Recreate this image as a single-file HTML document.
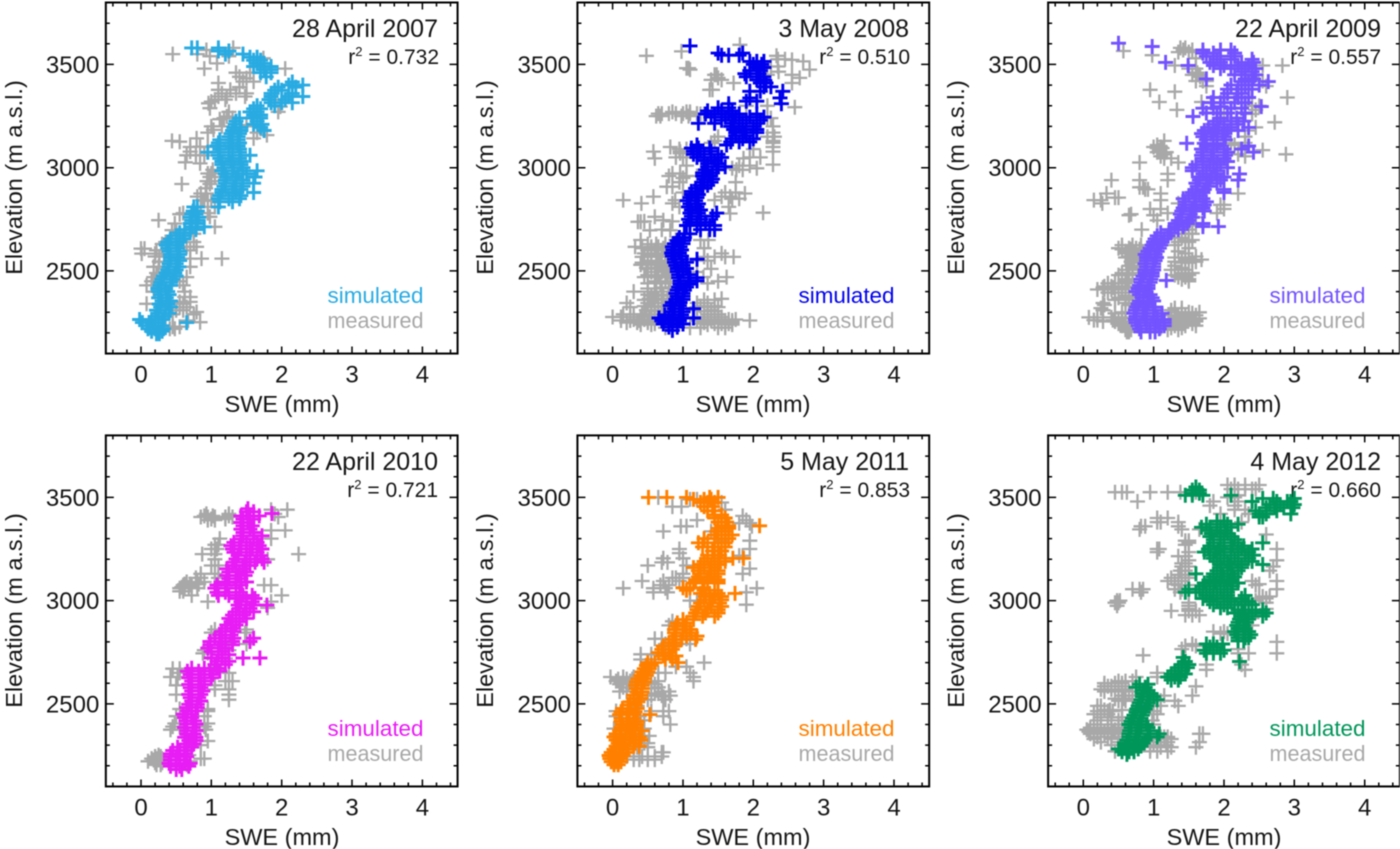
<!DOCTYPE html>
<html lang="en">
<head>
<meta charset="utf-8">
<title>Simulated and measured SWE by elevation</title>
<style>
html,body{margin:0;padding:0;background:#fff;}
svg{display:block;font-family:"Liberation Sans",sans-serif;fill:#151515;filter:blur(0.45px);}
.title{font-size:25px;text-anchor:end;}
.rsq{font-size:21px;text-anchor:end;}
.leg{font-size:22px;}
.axt{font-size:23.5px;text-anchor:middle;}
.sup{font-size:13px;}
</style>
</head>
<body>
<svg id="fig" xmlns="http://www.w3.org/2000/svg" width="1400" height="849" viewBox="0 0 1400 849">
<rect width="1400" height="849" fill="#fff"/>

<g id="panel-2007">
<text class="title" x="438" y="37">28 April 2007</text>
<text class="rsq" x="439" y="64">r<tspan class="sup" dy="-8">2</tspan><tspan dy="8"> = 0.732</tspan></text>
<text class="leg" x="327.5" y="303" textLength="96" lengthAdjust="spacingAndGlyphs" fill="#29abe2">simulated</text>
<text class="leg" x="327.5" y="328" textLength="96" lengthAdjust="spacingAndGlyphs" fill="#a8a8a8">measured</text>
<text class="axt" x="282" y="412">SWE (mm)</text>
<text class="axt" transform="translate(22,177.5) rotate(-90)">Elevation (m a.s.l.)</text>
</g>

<g id="panel-2008">
<text class="title" x="909" y="37">3 May 2008</text>
<text class="rsq" x="910" y="64">r<tspan class="sup" dy="-8">2</tspan><tspan dy="8"> = 0.510</tspan></text>
<text class="leg" x="798.5" y="303" textLength="96" lengthAdjust="spacingAndGlyphs" fill="#0000f0">simulated</text>
<text class="leg" x="798.5" y="328" textLength="96" lengthAdjust="spacingAndGlyphs" fill="#a8a8a8">measured</text>
<text class="axt" x="753" y="412">SWE (mm)</text>
<text class="axt" transform="translate(493,177.5) rotate(-90)">Elevation (m a.s.l.)</text>
</g>

<g id="panel-2009">
<text class="title" x="1381" y="37">22 April 2009</text>
<text class="rsq" x="1381" y="64">r<tspan class="sup" dy="-8">2</tspan><tspan dy="8"> = 0.557</tspan></text>
<text class="leg" x="1269.5" y="303" textLength="96" lengthAdjust="spacingAndGlyphs" fill="#7353ff">simulated</text>
<text class="leg" x="1269.5" y="328" textLength="96" lengthAdjust="spacingAndGlyphs" fill="#a8a8a8">measured</text>
<text class="axt" x="1224" y="412">SWE (mm)</text>
<text class="axt" transform="translate(964,177.5) rotate(-90)">Elevation (m a.s.l.)</text>
</g>

<g id="panel-2010">
<text class="title" x="438" y="470">22 April 2010</text>
<text class="rsq" x="438" y="497">r<tspan class="sup" dy="-8">2</tspan><tspan dy="8"> = 0.721</tspan></text>
<text class="leg" x="327.5" y="736" textLength="96" lengthAdjust="spacingAndGlyphs" fill="#e81cf5">simulated</text>
<text class="leg" x="327.5" y="761" textLength="96" lengthAdjust="spacingAndGlyphs" fill="#a8a8a8">measured</text>
<text class="axt" x="282" y="845">SWE (mm)</text>
<text class="axt" transform="translate(22,610.5) rotate(-90)">Elevation (m a.s.l.)</text>
</g>

<g id="panel-2011">
<text class="title" x="909" y="470">5 May 2011</text>
<text class="rsq" x="910" y="497">r<tspan class="sup" dy="-8">2</tspan><tspan dy="8"> = 0.853</tspan></text>
<text class="leg" x="798.5" y="736" textLength="96" lengthAdjust="spacingAndGlyphs" fill="#ff8000">simulated</text>
<text class="leg" x="798.5" y="761" textLength="96" lengthAdjust="spacingAndGlyphs" fill="#a8a8a8">measured</text>
<text class="axt" x="753" y="845">SWE (mm)</text>
<text class="axt" transform="translate(493,610.5) rotate(-90)">Elevation (m a.s.l.)</text>
</g>

<g id="panel-2012">
<text class="title" x="1381" y="470">4 May 2012</text>
<text class="rsq" x="1381" y="497">r<tspan class="sup" dy="-8">2</tspan><tspan dy="8"> = 0.660</tspan></text>
<text class="leg" x="1269.5" y="736" textLength="96" lengthAdjust="spacingAndGlyphs" fill="#00965a">simulated</text>
<text class="leg" x="1269.5" y="761" textLength="96" lengthAdjust="spacingAndGlyphs" fill="#a8a8a8">measured</text>
<text class="axt" x="1224" y="845">SWE (mm)</text>
<text class="axt" transform="translate(964,610.5) rotate(-90)">Elevation (m a.s.l.)</text>
</g>
</svg>

<script>
// Rows are [elevation, swe, swe, ...]: each SWE value at that elevation is one marker.
const xTickLabels = [0, 1, 2, 3, 4];
const yTickLabels = [2500, 3000, 3500];

const meas2007 = [[3550,.45,.8],[3570,.93],[3580,1.31],[3540,.98,1.25],[3505,1.08],[3480,.9,2.05],[3530,1.74],[3433,1.5],[3417,1.6,1.45],[3410,1.1],[3390,1.4],[3377,1.27,1.1],[3345,1.22,1.48,1.1],[3320,1],[3312,.96],[3296,1.98],[3288,.98],[3248,1.22],[3235,1.12],[3207,1.5],[3183,1.03],[3158,1.79],[3142,.79,1.6],[3130,.44],[3126,.55],[3102,.84],[3078,.7],[3026,.63],[3021,.84],[2990,1.02],[2972,1,.95],[2955,.98,1.05],[2935,.94,1],[2921,.58,.98],[2900,.92],[2875,.93,.85],[2860,.8],[2843,.88,.95],[2746,.25],[2730,.48],[2698,.44,.5],[2762,.98],[2714,1.05],[2775,.55],[2608,0,.05],[2584,.01,.2],[2570,.2,.26],[2545,.26,.33],[2617,.79,.65],[2560,.86,.7,1.15],[2630,.3],[2520,.25],[2490,.22],[2470,.65,.18],[2450,.55,.2],[2430,.08,.15,.6],[2400,.2],[2374,.7,.62],[2341,.08,.6],[2325,.55,.65],[2310,.5,.6],[2301,.79],[2260,.67],[2252,.84],[2220,.41,.48],[3460,1.35,1.55],[3440,1.4],[3360,1.15,1.35,1.5],[3330,1.05,1.2,1.9,2],[3270,1.25,1.95],[3240,1.3,1.18],[3200,1,1.15,1.6],[3170,.95,1.65],[3100,.7,.95],[3060,.65,.78,.9],[2840,.9,1],[2810,.85,1.05],[2780,.6,.95],[2680,.5,.75],[2640,.35,.75],[2600,.22,.3,.7],[2520,.18,.7],[2490,.3],[2450,.15,.22],[2400,.18,.25,.62],[2350,.55,.7],[2290,.45,.75],[2230,.35,.45,.55]];
const sim2007 = [[2196,.22,.26],[2208,.15,.25,.3],[2220,.1,.2,.32],[2235,.08,.18,.3],[2250,.02,.12,.25,.65],[2265,-.02,.15,.3],[2280,.2,.33],[2295,.25,.4],[2310,.22,.35],[2325,.28,.42],[2340,.26,.38],[2355,.3,.42],[2370,.25,.36],[2385,.28,.4],[2400,.25,.38],[2415,.24,.35],[2430,.27,.42],[2445,.28,.42],[2460,.3,.45],[2475,.32,.5],[2490,.36,.48],[2505,.38,.5],[2520,.4,.54],[2535,.4,.5],[2550,.42,.55],[2565,.42,.52],[2580,.42,.55],[2595,.4,.55],[2610,.38,.52],[2625,.36,.5],[2640,.38,.55],[2655,.42,.6],[2670,.5,.62],[2685,.55,.7],[2700,.62,.78],[2714,.72,.9],[2730,.7,.8],[2745,.72,.8],[2760,.7,.82],[2775,.72,.78],[2790,.74,.8],[2810,.75,.8,1.1],[2835,1.12,1.3],[2850,1.1,1.25,1.4],[2865,1.12,1.3,1.42],[2880,1.15,1.35,1.6],[2895,1.15,1.3,1.42],[2910,1.18,1.32,1.45],[2925,1.2,1.35,1.45,1.6],[2940,1.2,1.35,1.45],[2955,1.22,1.35,1.62],[2970,1.2,1.38,1.5],[2985,1.15,1.3,1.45,1.65],[3000,1.18,1.32,1.45],[3015,1.15,1.3,1.42],[3030,1.15,1.28,1.42],[3045,1.12,1.3,1.4],[3060,1.1,1.25,1.42,1.55],[3075,1.1,1.25,1.4,.95],[3090,1.12,1.3,1.4],[3105,1.08,1.25,1.38],[3120,1.1,1.28,1.4],[3135,1.12,1.3,1.38],[3150,1.25,1.38],[3165,1.28,1.4],[3180,1.3,1.42,1.75],[3195,1.32,1.42,1.7],[3210,1.34,1.6,1.72],[3225,1.35,1.65],[3240,1.4,1.58,1.7],[3255,1.6,1.7],[3270,1.55,1.65],[3285,1.6,1.7],[3300,1.65,1.9],[3315,1.85,2,2.15],[3330,1.82,2.05],[3345,1.85,2.1,2.3],[3360,1.85,2.15],[3375,1.9,2],[3390,1.95,2.2],[3400,2.1,2.3],[3415,2.15],[3440,1.78],[3460,1.85,1.7],[3475,1.75,1.85],[3490,1.6,1.7,1.85],[3505,1.65,1.75],[3520,1.6,1.7],[3535,1.55,1.65],[3550,1.45,1.2],[3565,1.1,1.25],[3580,.72,.8,1.1]];

const meas2008 = [[3595,1.81],[3563,.98],[3542,.48,2.33],[3522,2.55],[3515,2.71],[3482,1.05,1.08],[3475,2.8,1.1],[3465,2.36],[3450,1.48,1.45],[3435,2.66,1.5],[3410,1.72,2.55],[3377,1.38,1.42],[3293,2.59],[3270,.85,1.05,1.1],[3262,.65,.7,.8,.9,1,1.1,1.2],[3250,.62,.68,.98,1.08],[3200,2.28],[3170,2.28],[3130,2.28,1.45],[3100,.82,2.28],[3078,.58,2.28,.96],[3045,1.86,.6],[3015,2.28],[3070,.96,1.05],[2997,2.05,1.7],[2990,1.76,1.85],[2972,.96,.85],[2950,1],[2908,.77,.85],[2875,1.88],[2860,.58,1.67,1.55],[2843,.15,.89,1.45],[2827,.41,.85],[2782,2.14],[2778,1.67],[2762,.6],[2746,.72],[2738,.36,.4],[2697,.53,.82],[2650,1.36],[2617,.32,.55,.65],[2600,.5,.6,.7,.8],[2585,.45,.55,.65,.75,1.55],[2568,.42,.55,.7,.85,1.3,1.45,1.6,1.72],[2550,.5,.62,.75,1.2,1.35],[2530,.4,.55,.68,.8],[2515,.48,.6,.72,.82],[2495,.55,.7,.8,1.2],[2470,.45,.65,.78,1.29,1.62],[2450,.6,.75,1.5],[2420,.7,.8],[2400,.3,.5,.6,.7],[2385,.5,.62,.72],[2365,.52,.65,.78,1.55],[2345,.2,.5,.6,.72,1.2,1.35],[2325,.25,.55,.7,1.2,1.35,1.5],[2305,.55,.65,1.3,1.45],[2290,.15,.3,.42,.55,.7,1.35,1.5],[2277,0,.12,.25,.4,.52,.65,1.2,1.3,1.45,1.55],[2260,.12,.25,.38,.5,1.2,1.4,1.6,1.7,1.95],[2245,.6,1.25,1.45,1.55,1.65],[2225,1.1,1.5],[3525,2.35,2.45],[3490,2.35,2.25],[3450,2.2,2.55],[3425,1.4,1.55],[3300,2.2,1.9],[3240,2.2,2.25],[3260,1.25,1.3],[3150,2.2,2.3,1.5],[3120,2.28,1.4],[3090,.95,1.05,2],[3050,1.95,2.1,.9,1],[3010,1.8,1.95,1.05],[2960,.8,1.05,1.2],[2930,.95,1.75],[2880,1.6,1.75,1],[2850,1.7,1.8],[2810,.95,1.65],[2740,.45,.85],[2700,.7],[2650,.4,.9,1.25],[2630,.5,.62,.75,.85],[2610,.42,.55,.72,1.3],[2575,.5,.62,.78,.85],[2540,.42,.55,.68,.82],[2510,.5,.65,.78,1.4],[2480,.5,.62,.75],[2440,.5,.68,.82,1.35],[2415,.5,.62,.8],[2380,.55,.7,.8],[2360,.45,.58,.7,1.3,1.45],[2330,.45,.6,.75,1.25,1.45],[2310,.48,.6,.78,1.15,1.4],[2265,.3,.45,.6,.72,1.35,1.5,1.65,1.75],[2250,.2,.35,.5,1.3,1.5,1.7],[2240,.4,.55,1.35,1.6,1.7],[2225,.75,1.25,1.6]];
const sim2008 = [[2212,.85],[2228,.8,.92],[2243,.72,.85,1],[2258,.7,.82,.95],[2272,.66,.8,.95,1.15],[2287,.74,.85,.98],[2302,.85,1],[2317,.88,1,1.15],[2332,.82,.95],[2347,.85,.96],[2362,.9,1],[2377,.92,1],[2392,.9,1],[2407,.92,1.02],[2422,.94,1.05],[2437,.96,1.1],[2452,.96,1.08,1.2],[2467,.94,1.1,1.2],[2482,.94,1.08],[2497,.92,1],[2512,.92,1.05],[2527,.9,1],[2542,.88,.98,1.05],[2557,.88,.98,1.2],[2572,.85,.98],[2587,.84,.95],[2602,.86,.98],[2617,.85,.96],[2632,.88,1],[2647,.92,1],[2662,.95,1.02],[2680,1.02,1.1],[2700,1.25,1.38,1.45],[2720,1.05,1.2,1.38,1.45],[2735,1.1,1.2,1.32],[2750,1.08,1.25],[2765,1.12,1.25,1.42],[2780,1.1,1.22,1.48],[2795,1.12,1.25],[2810,1.08,1.2],[2825,1.1,1.22],[2840,1.06,1.18],[2855,1.1,1.2],[2870,1.12,1.22],[2885,1.12,1.2],[2900,1.18,1.28],[2915,1.25,1.35],[2930,1.3,1.4],[2945,1.3,1.42],[2960,1.28,1.38],[2975,1.28,1.42],[2990,1.32,1.48],[3005,1.35,1.5,1.6],[3020,1.35,1.5],[3035,1.3,1.45],[3050,1.2,1.4,1.55],[3065,1.15,1.3,1.5],[3080,1.15,1.25,1.4],[3095,1.12,1.22,1.38],[3110,1.2,1.62],[3125,1.68,1.8,1.95],[3140,1.7,1.85,2],[3155,1.75,1.9],[3170,1.75,1.88,2.05],[3185,1.72,1.85,2.05],[3200,1.68,1.8,2],[3215,1.22,1.45,1.7,1.85,2.05],[3230,1.55,1.72,1.9,2.1],[3245,1.4,1.6,1.75,1.95,2.15],[3260,1.32,1.45,1.65,1.8,2.05],[3275,1.35,1.55,1.7],[3290,1.5,1.65],[3310,1.65,2.4],[3322,1.9,2.05],[3338,2.38,1.95],[3370,1.95,2.1,2.42],[3392,2.15,2.25],[3410,2.1,2.18],[3425,2.05,2.15],[3440,1.9,2.05,2.15],[3455,1.88,2.08],[3470,1.95,2.1],[3485,2.05,2.15],[3500,2,2.12],[3515,1.95,2.05,2.15],[3545,1.55,1.65,1.8],[3555,1.5,1.85],[3590,1.1]];

const meas2009 = [[3565,.57],[3545,.98],[3580,1.38,1.45],[3570,1.42,1.55],[3530,1.6],[3495,1.3,2.83,2.55],[3460,1.62],[3440,1.66,2.4],[3420,1.7,2.55],[3395,1.75,2.6],[3377,.95],[3368,1.3],[3340,2.9],[3318,1.08,1.68],[3280,1.33,2.45],[3220,2.72],[3195,2.45],[3150,2.3],[3130,1.15],[3110,1.05,2.15],[3100,1,1.1,2.3],[3085,1.08,2.55],[3065,2.88,1.15,2.2],[3045,1.15,1.25],[3025,.8,1.35],[2970,1.2],[2940,.4,.8,1.2],[2905,.8,.85],[2895,.88,.92],[2875,.33,1.1,2.2],[2855,.45,.5],[2843,.15,.25,1.1],[2827,.27,1.35],[2800,.95,1.1,2],[2775,.68],[2770,.65,1],[2760,1.6],[2745,1.05],[2700,.83,1.5],[2650,1.45,1.55],[2640,1.35,1.5],[2610,.5,.65,.75,1.5],[2595,.6,.7,.82,1.35],[2570,.65,.75,1.6],[2555,.7,.8,1.45,1.55,1.68],[2540,.72,.82,1.4,1.5],[2515,.7,.8,1.4],[2490,.55,.7,1.4,1.55],[2470,1.35,1.45],[2450,.62,1.5],[2425,.3,.4,.5,.6],[2410,.2,.3,.4,.55],[2395,.35,.45,.55,.7],[2370,.5,.65],[2345,.28,.6,.7],[2310,.28,1.25],[2295,.45,.6,1.4,1.55],[2285,1.25,1.35,1.45,1.6],[2275,.08,.2,.4,.55,1.3,1.5],[2262,.15,.2,.42,.5,1.25,1.4,1.6],[2245,.5,.6,1.25,1.4,1.55],[2225,.6,1.1,1.25,1.4],[2205,.65,.62],[3560,1.35,1.5],[3480,1.5,1.6],[3450,1.55,1.65],[3420,1.6,1.75],[3300,2.4,2.5],[3260,2,2.4],[3180,2.35,2.2],[3120,2.1,2.3],[3095,1.05,1.12],[3075,1.05,1.18],[3055,1.1,2.3],[2820,2,1.95],[2780,1.9,1.2],[2720,1.6,1.45],[2680,1.55,1.5,1.35],[2660,1.3,1.4],[2625,.55,.7,.82,1.3],[2605,.55,.68,.8],[2585,.62,.72,.85,1.45],[2565,.6,.72,.82,1.3,1.5],[2545,.68,.78,1.3,1.4,1.6],[2525,.65,.8,1.3],[2505,.62,.78,1.25,1.45],[2480,.5,.65,1.3,1.5],[2460,.6,1.4,1.5],[2440,.35,.45,.6],[2420,.28,.42,.55,.65],[2380,.6,.75],[2360,.45,.6],[2335,.3,.65],[2320,.25,1.3,1.4],[2300,.55,1.3,1.4,1.5,1.65],[2270,.55,.6,1.35,1.55,1.65],[2255,.28,.45,.6,1.3,1.45,1.6],[2235,.55,1.3,1.45,1.6],[2215,.6,.68,1.2,1.35]];
const sim2009 = [[2205,.82,.95,1.02],[2220,.8,.95,1.08],[2235,.78,.9,1.02,1.15],[2250,.75,.9,1.05,1.15],[2265,.74,.88,1,1.15],[2280,.75,.9,1.05],[2295,.72,.85,1,1.12],[2310,.74,.88,1],[2325,.76,.9,1.02],[2340,.78,.92],[2355,.8,.92,1],[2370,.85,.98],[2385,.8,.95],[2400,.75,.88],[2415,.78,.92],[2430,.8,.92],[2445,.82,.95],[2454,1.18],[2460,.82,.96],[2475,.85,.98],[2490,.88,.98],[2505,.88,1],[2520,.9,1],[2535,.88,1],[2550,.9,1.02],[2565,.9,1.04],[2580,.88,1.02],[2595,.92,1.05],[2610,.95,1.08],[2625,.98,1.1],[2640,1,1.12],[2655,1.02,1.15],[2670,1.05,1.2],[2685,1.1,1.25],[2700,1.22,1.35],[2715,1.3,1.42,1.7,1.92],[2730,1.32,1.48,1.7],[2745,1.35,1.5],[2760,1.4,1.55],[2775,1.38,1.52],[2790,1.4,1.58,1.72],[2805,1.42,1.55,1.7],[2820,1.45,1.6,1.72],[2835,1.45,1.6,1.75],[2850,1.42,1.58,1.7],[2865,1.5,1.65],[2880,1.55,1.7,2],[2895,1.6,1.72,2],[2910,1.62,1.78],[2925,1.6,1.75,1.9],[2940,1.65,1.8,1.95,2.2],[2955,1.65,1.82,2],[2970,1.7,1.88,2.22],[2985,1.55,1.75,1.9],[3000,1.55,1.7,1.85,2.05],[3015,1.6,1.8,1.95],[3030,1.7,1.9,2.05],[3045,1.7,1.85,2],[3060,1.68,1.82,2.02],[3075,1.7,1.85,2.05,2.42],[3090,1.68,1.85,2,2.25],[3105,1.75,1.9,2.35],[3118,1.47,1.72,1.9],[3135,1.75,1.9,2.02],[3150,1.7,1.85,2],[3165,1.68,1.82,1.98],[3180,1.72,1.88,2.05,2.2],[3195,1.78,1.92,2.1,2.35],[3210,1.85,2,2.2],[3225,1.9,2.1,2.28],[3240,1.95,2.18],[3248,1.56],[3265,1.75,1.9,2.05,2.3],[3288,1.7,1.85,2.1,2.25],[3296,2.53,1.95],[3315,1.82,1.95,2.15,2.3],[3340,1.85,2,2.2,2.35],[3360,2.05,2.18,2.25],[3380,2.05,2.2,2.4],[3400,2.1,2.3,2.5],[3417,2.63,2.25,2.35],[3430,1.75,2.3,2.42],[3450,2.15,2.3,2.45],[3465,2.25,2.4],[3480,1.95,2.1,2.3,2.45],[3495,1.49,1.85,2,2.2,2.35],[3510,1.17,1.8,1.95,2.25,2.42],[3525,1.9,2.1,2.4],[3540,1.75,1.95,2.15],[3555,1.7,1.85,2.15],[3570,1.7,1.95,2.1],[3587,.98],[3603,.5]];

const meas2010 = [[3440,1.85,2.08],[3420,.93,1.25,1.9],[3405,.85,.95,1.05,1.2,1.3,1.95],[3390,.95,1.05],[3340,2.05,1.85],[3300,1.12,1.85],[3270,1.1,1.05],[3250,1,1.08],[3225,.87,1.05,2.24],[3200,1.05,1.8],[3170,1,1.1],[3130,1.05,.85],[3110,.78,.85,1.1],[3090,.8,.9,.65],[3075,.6,.72,1.75,1.85],[3060,.55,.62,.8],[3045,.55,.6],[3025,.72,2],[2995,.95,1.85],[2965,1.8],[2860,1.05,1.5],[2845,1,1.48],[2790,1.5,1.25],[2760,.9,1.25],[2745,.88,.95],[2720,1.45,1.2],[2680,1.05],[2670,.45,.55],[2650,.55,1.25],[2630,.42,.52],[2610,1.2,1.3],[2590,.5,1.05],[2570,1.25,1.05],[2545,.5,1.25],[2520,1.25],[2475,.55,.95],[2465,.95],[2440,.5,.9],[2405,.48,.95],[2390,.45,.55,.9],[2375,.42,.58,.92],[2320,.85,.95],[2300,.85],[2252,.25,.68],[2235,.15,.22,.3,.85,.9],[2222,.1,.2,.3,.7],[2205,.22,.28,.65],[2245,.2,.28],[2228,.18,.25],[2215,.2,.3],[3410,.9,1.02,1.25],[3395,1,1.2],[3080,.62,.7,.82],[3065,.58,.68]];
const sim2010 = [[2182,.5,.58],[2198,.42,.55,.68],[2212,.4,.5,.62,.7],[2228,.42,.55],[2244,.42,.5,.65],[2258,.42,.52,.62],[2274,.45,.55,.65],[2290,.52,.62,.72],[2306,.65,.75],[2322,.68,.78],[2338,.62,.72,.78],[2354,.65,.75],[2370,.65,.78],[2386,.62,.74],[2402,.65,.78],[2418,.64,.76],[2434,.62,.72],[2450,.6,.72],[2466,.66,.78],[2482,.65,.8],[2498,.68,.8],[2514,.72,.85],[2530,.7,.82],[2546,.68,.85],[2562,.72,.88],[2578,.7,.85],[2594,.68,.82,.9],[2610,.72,.9],[2626,.68,.85,1],[2642,.7,.85,1.02],[2658,.66,.82,.98,1.12],[2672,.72,.9,1.08],[2690,1.05,1.2],[2706,1.08,1.25],[2722,1,1.15,1.45,1.69],[2738,1.1,1.25],[2754,1,1.15],[2770,.95,1.1,1.2],[2786,.98,1.12,1.3],[2802,.98,1.15,1.3,1.55],[2818,1.05,1.2,1.32,1.6],[2834,1.12,1.28],[2850,1.15,1.32],[2866,1.2,1.3],[2882,1.22,1.35],[2898,1.28,1.4],[2914,1.25,1.4,1.5],[2930,1.3,1.45],[2946,1.35,1.48,1.6],[2962,1.4,1.55],[2978,1.38,1.5,1.6,1.79],[2994,1.42,1.58],[3010,1.35,1.5,1.62],[3025,1.1,1.25,1.45,1.58],[3040,1.08,1.2,1.4],[3060,1.05,1.2,1.35],[3075,1.08,1.22,1.42],[3090,1.2,1.35,1.5],[3106,1.25,1.42],[3122,1.22,1.38,1.48],[3138,1.25,1.4,1.5],[3154,1.22,1.35,1.45],[3170,1.3,1.45,1.55],[3186,1.32,1.48,1.62,1.75],[3202,1.35,1.5,1.65,1.72],[3218,1.38,1.55,1.7],[3234,1.32,1.5,1.65],[3250,1.3,1.42,1.58,1.72],[3266,1.28,1.4,1.55,1.68],[3282,1.32,1.5,1.65],[3298,1.42,1.6],[3314,1.45,1.6,1.72],[3330,1.45,1.6],[3346,1.42,1.55],[3362,1.45,1.58],[3378,1.42,1.52],[3394,1.45,1.6],[3410,1.42,1.55,1.68],[3422,1.86],[3430,1.5,1.6],[3445,1.52]];

const meas2011 = [[3500,.65],[3490,1.1,1.2],[3475,1.55],[3455,.98,.85],[3440,1.6],[3410,1.85],[3390,1.2,1.9],[3375,1.8,1.95],[3360,.97,1.05,1.98],[3335,.72,1.4],[3290,1.55,1.95],[3250,.95,1.95],[3230,.95],[3218,1.8,1.85],[3205,.72,1],[3185,.7,.78],[3170,.5,1.05],[3155,1.95],[3130,1,1.85],[3110,.85,1,.9],[3095,.42,.72,.95],[3075,.68,.8],[3060,.15,.58,.75,2.05],[3040,.58,.78,1.9],[3000,1.2,1.1],[2980,1.9],[2900,.85],[2880,.8,.9],[2815,.6,.7,1.05],[2790,.75,.9,1.1],[2740,.4,.55,.75],[2715,.4,.55],[2700,1.3],[2680,.9,1.05],[2650,.5,.65,.75,1.1],[2630,-.03,.15,.3,1.15],[2610,.05,.15,.25,.65,1.15],[2595,.1,.22,.6],[2580,.15,.65],[2560,.1,.2,.7,.8],[2540,.55,.7,.82],[2520,.5,.75],[2490,.35],[2465,.05,.55,.72,.8],[2440,.05,.38,.72],[2420,.4,.45],[2400,.82],[2380,.02,.45],[2345,.05,.42,.52],[2310,.45,.5],[2290,.35,.5],[2265,.7,.72],[2245,.2,.3,.42,.6,.7],[2230,.3,.38,.5,.6],[2620,.08,.2,.28],[2600,.12,.3,.55],[2575,.28,.6],[2550,.6,.65],[2535,.72]];
const sim2011 = [[2205,.02,.08],[2220,-.02,.05,.12],[2235,-.04,.02,.1],[2250,-.05,.05,.15],[2265,-.02,.1,.2],[2280,.02,.12,.22],[2295,.05,.15,.3,.38],[2310,.08,.18,.32],[2325,.05,.15,.25,.4],[2340,.02,.12,.25,.38],[2355,.05,.18,.28],[2370,.1,.2,.32,.42],[2385,.12,.22,.3],[2400,.14,.25,.34],[2415,.12,.22,.35],[2430,.12,.24,.3],[2448,.1,.2,.3,.53],[2462,.12,.22,.32],[2478,.14,.26,.35],[2494,.22,.32],[2510,.25,.36],[2526,.3,.4],[2542,.3,.4],[2558,.35,.42],[2574,.34,.42],[2590,.33,.42],[2606,.34,.45],[2622,.36,.45],[2638,.4,.48],[2654,.42,.5],[2670,.45,.52],[2686,.48,.55],[2700,.5,.6,.93],[2716,.75,.85],[2732,.72,.82,.9],[2748,.65,.8],[2764,.7,.85],[2780,.72,.88],[2796,.8,.9],[2812,.85,.98,1.18],[2828,.9,1.05,1.2],[2844,.88,1,1.12],[2860,.88,1,1.1],[2876,.9,1.02],[2892,.92,1.05],[2908,1,1.15],[2924,1.15,1.28,1.45],[2940,1.18,1.32,1.5],[2956,1.2,1.35,1.5],[2972,1.22,1.4,1.55],[2988,1.25,1.38,1.52],[3004,1.3,1.42,1.55],[3020,1.32,1.45,1.55],[3035,1.25,1.38,1.5,1.74],[3050,1.05,1.3,1.45],[3062,1,1.1,1.28],[3085,1.15,1.3,1.5],[3100,1.18,1.35,1.5],[3115,1.22,1.35,1.45],[3130,1.25,1.4,1.5],[3145,1.22,1.38,1.5],[3160,1.15,1.3,1.45],[3175,1.25,1.4,1.52],[3190,1.3,1.45,1.6],[3205,1.35,1.5,1.71,1.86],[3220,1.35,1.52],[3240,1.42,1.55],[3260,1.28,1.45,1.6],[3280,1.22,1.35,1.5,1.6],[3300,1.3,1.45,1.65],[3318,1.45,1.55,1.7],[3335,1.48,1.6],[3350,1.5,1.65],[3362,1.55,1.65,2.09],[3380,1.5,1.62],[3400,1.45,1.6],[3415,1.45,1.55],[3435,1.35,1.45],[3455,1.3,1.42],[3475,1.25,1.35,1.45],[3490,1.15,1.3,1.4],[3500,.51,.77,1.05,1.38,1.5]];

const meas2012 = [[3560,2.05,2.15,2.3,2.5],[3540,2.1,2.2,2.4],[3525,.45,.55,.62,.95,1.2,1.38,1.6],[3510,2.1,2.2],[3480,.77,1.85,2.2],[3460,1.8,2.15],[3440,2.15,2.3],[3400,1.05,1.2],[3380,1.05,1.1,1.35,2.25],[3360,.82,.88,1.35],[3345,.8,1.4,1.65],[3320,2.6],[3290,1.45,1.5],[3270,1.45],[3250,1.08,1.05,2.75],[3235,1.05,1.5],[3215,1.35,1.45],[3195,1.5,2.75],[3165,1.4,1.5,2.7],[3145,1.38,1.45,2.65],[3125,1.35,1.5],[3095,1.2,1.3,1.4,2.4,2.75],[3075,1.35,1.5,2.45],[3055,.7,.8,.85,1.3,1.4,2.75],[3040,.82,1.38],[3010,2.5,2.6],[3000,.48,.52,2.45],[2990,.45,.5,1.5,2.6],[2975,.48,1.5],[2950,1.25,1.5,1.6],[2930,1.45,1.55,1.65],[2915,2.4],[2880,2.4],[2840,1.95,2.05],[2800,2.75],[2780,1.45,1.6],[2765,1.4,2.2],[2745,2.2,2.35,2.75],[2735,.85],[2690,2.25,1.75],[2665,1.75,2.3],[2650,1.05],[2610,.5,.6,.7],[2585,.3,.35,.4,.55,1.6],[2570,.25,.4,.6,.55],[2540,.55,.6,.7,1.15,1.55],[2515,.5,.6,.7,1.1,1.3],[2490,.2,.25,.95,1.1,1.35],[2465,.2,.35,.42,1],[2450,.15,.25,.35,1.05],[2420,.2,.35,.5,.98],[2400,.15,.25,.4,.5,1],[2375,.05,.15,.25,.35,.45,.55],[2355,.1,.2,.3,.4,.5,1.7,1.65],[2340,.2,.35,.5,1.1,1.2,1.15],[2315,.25,.5,1.05,1.2,1.65],[2290,.95,1.1,1.25,1.6],[2270,.45,.95,1.05,1.2],[3540,2.3,2.45],[3500,2.05,2.15],[3420,1.95,2.35],[3280,1.5,2.55],[3180,1.4,1.45],[3110,1.25,1.45,1.5],[3080,1.3,2.5],[3020,2.55,2.65],[2960,1.5,2.6],[2850,2,1.85],[2790,1.55,1.75],[2630,1.05,.75],[2600,.3,.45,.55],[2560,.3,.5,.65],[2525,.45,.58],[2470,.3,.38,.55],[2435,.25,.4,.55],[2385,.1,.2,.35,.5],[2365,.08,.3,.42,.55],[2330,.15,.4,1.1,1.25],[2300,.4,1,1.18]];
const sim2012 = [[2255,.62],[2268,.55,.65,.72],[2282,.5,.62,.78],[2296,.6,.72,.82],[2310,.62,.75,.85],[2325,.62,.74,.88],[2340,.65,.78,.92,1.05],[2355,.65,.75,.95,1.08],[2370,.66,.8,.95],[2385,.68,.82,.92],[2400,.65,.78,.9],[2415,.68,.8],[2430,.7,.82],[2445,.72,.84],[2460,.75,.85],[2475,.76,.88],[2490,.78,.9],[2505,.8,.92],[2520,.82,.95,1.05],[2535,.84,.92,1],[2550,.85,.95],[2565,.85,.92],[2580,.75,.88],[2595,.8,.92],[2615,1.25,1.35],[2630,1.2,1.3,1.38],[2645,1.25,1.35,1.45],[2660,1.3,1.4],[2675,1.35,1.48],[2690,1.4,1.5],[2705,1.45,2.22],[2725,1.42],[2745,1.75,1.85,1.95],[2760,1.72,1.85,2],[2775,1.8,1.9],[2790,1.75,1.85,1.98],[2805,2.2,2.28],[2820,2.2,2.3,2.35],[2835,2.18,2.3,2.38],[2850,2.15,2.28,2.35],[2865,2.2,2.3],[2880,2.18,2.28],[2895,2.2,2.32],[2910,2.22,2.35],[2925,2.25,2.35,2.55],[2940,2.15,2.28,2.4,2.6],[2955,2.2,2.3,2.45,2.55],[2965,1.95,2.05],[2980,1.85,2,2.15,2.3,2.4],[2995,1.8,1.9,2.1,2.25,2.35],[3010,1.7,1.85,2,2.1,2.25],[3025,1.75,1.9,2.05,2.3],[3040,1.45,1.6,1.75,1.9,2.05],[3055,1.5,1.65,1.8,1.95,2.1],[3070,1.7,1.85,2,2.12],[3085,1.72,1.88,2.05,2.2],[3100,1.8,1.95,2.08],[3115,1.85,2,2.15],[3130,1.6,1.85,1.98,2.12],[3145,1.9,2.05,2.2],[3160,1.95,2.1,2.25],[3175,1.95,2.08,2.25,2.55],[3190,1.9,2.05,2.2,2.4],[3205,1.85,2,2.15,2.35],[3220,1.8,1.95,2.1,2.3,2.42],[3235,1.72,1.88,2,2.2,2.35],[3250,1.78,1.92,2.1,2.25,2.4],[3265,1.8,1.95,2.12,2.28],[3280,1.85,2,2.2,2.55],[3295,1.85,2,2.15],[3310,1.8,1.95,2.1],[3325,1.82,1.95,2.05],[3340,1.8,1.9,2.02],[3355,1.68,1.8,1.95,2.1],[3370,1.75,1.9,2.05,2.2],[3385,1.9,2],[3405,2.5,2.55],[3420,2.5,2.6,2.95],[3435,2.45,2.6,2.75],[3450,2.6,2.72,2.85,2.98],[3465,2.65,2.8,3],[3480,2.4,2.75,2.9,2.95],[3495,2.55,2.7,3],[3510,1.45,1.55,1.7,2.1],[3520,1.55,1.65],[3535,1.55,1.65],[3550,1.6]];

const panels = [
  {id:'panel-2007',measured:meas2007,simulated:sim2007,color:'#29abe2'},
  {id:'panel-2008',measured:meas2008,simulated:sim2008,color:'#0000f0'},
  {id:'panel-2009',measured:meas2009,simulated:sim2009,color:'#7353ff'},
  {id:'panel-2010',measured:meas2010,simulated:sim2010,color:'#e81cf5'},
  {id:'panel-2011',measured:meas2011,simulated:sim2011,color:'#ff8000'},
  {id:'panel-2012',measured:meas2012,simulated:sim2012,color:'#00965a'}
];

const NS = 'http://www.w3.org/2000/svg';
const xPerUnit = 70.35, yPerMetre = 0.2065, armLength = 7.5;

function svgEl(tag, parent) {
  const el = document.createElementNS(NS, tag);
  parent.appendChild(el);
  return el;
}

function drawSeries(parent, rows, color, width, name, xAxis, yAxis) {
  const g = svgEl('g', parent);
  
  
  g.setAttribute('stroke', color);
  g.setAttribute('stroke-width', width);
  g.setAttribute('fill', 'none');
  rows.forEach(function (row) {
    const py = yAxis(row[0]);
    row.slice(1).forEach(function (swe) {
      const px = xAxis(swe);
      const p = svgEl('path', g);
      
      
      p.setAttribute('d', 'M' + (px - armLength).toFixed(1) + ' ' + py.toFixed(1) + 'h' + (armLength * 2) + 'M' + px.toFixed(1) + ' ' + (py - armLength).toFixed(1) + 'v' + (armLength * 2));
    });
  });
}

function drawPanel(panel, index) {
  const col = index % 3, row = index < 3 ? 0 : 1;
  const x0 = [141, 612.6, 1083.3][col];
  const y3000 = [167.7, 600.6][row];
  const xAxis = function (v) { return x0 + v * xPerUnit; };
  const yAxis = function (v) { return y3000 + (3000 - v) * yPerMetre; };
  const left = xAxis(-0.5), right = xAxis(4.5), top = yAxis(3800), bottom = yAxis(2100);
  const g = document.getElementById(panel.id);

  drawSeries(g, panel.measured, '#a8a8a8', 2.3, 'measured', xAxis, yAxis);
  drawSeries(g, panel.simulated, panel.color, 2.9, 'simulated', xAxis, yAxis);

  const ticks = svgEl('g', g);
  
  
  ticks.setAttribute('stroke', '#000');
  ticks.setAttribute('stroke-width', '1.5');
  let d = '';
  for (let i = -2; i <= 22; i++) {
    const v = i / 5, px = xAxis(v).toFixed(1), len = i % 5 === 0 ? 7 : 4;
    d += 'M' + px + ' ' + top + 'v' + len + 'M' + px + ' ' + bottom + 'v' + (-len);
  }
  for (let e = 2200; e <= 3700; e += 100) {
    const py = yAxis(e).toFixed(1), len = e % 500 === 0 ? 8 : 4;
    d += 'M' + left + ' ' + py + 'h' + len + 'M' + right + ' ' + py + 'h' + (-len);
  }
  const tickPath = svgEl('path', ticks);
  
  
  tickPath.setAttribute('d', d);

  const frame = svgEl('rect', g);
  
  
  frame.setAttribute('x', left);
  frame.setAttribute('y', top);
  frame.setAttribute('width', right - left);
  frame.setAttribute('height', bottom - top);
  frame.setAttribute('fill', 'none');
  frame.setAttribute('stroke', '#000');
  frame.setAttribute('stroke-width', '2');

  xTickLabels.forEach(function (v) {
    const t = svgEl('text', g);
    
    
    t.setAttribute('x', xAxis(v));
    t.setAttribute('y', bottom + 29);
    t.setAttribute('text-anchor', 'middle');
    t.setAttribute('font-size', '24');
    t.textContent = v;
  });
  yTickLabels.forEach(function (v) {
    const t = svgEl('text', g);
    
    
    t.setAttribute('x', left - 6.5);
    t.setAttribute('y', yAxis(v) + 8.5);
    t.setAttribute('text-anchor', 'end');
    t.setAttribute('font-size', '24');
    t.textContent = v;
  });
}

panels.forEach(drawPanel);
</script>
</body>
</html>
